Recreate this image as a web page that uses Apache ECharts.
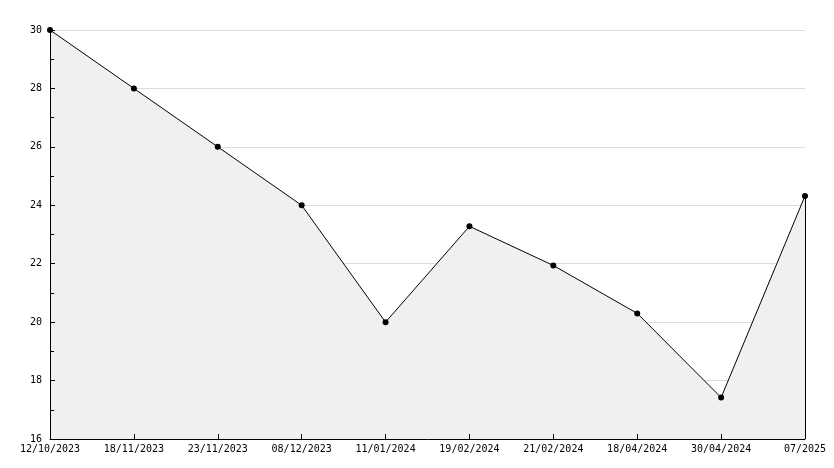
<!DOCTYPE html>
<html>
<head>
<meta charset="utf-8">
<script src="https://cdn.jsdelivr.net/npm/echarts@6/dist/echarts.min.js"></script>
<style>html,body{margin:0;padding:0;background:#fff}#c{width:834px;height:468px}</style>
</head>
<body>
<div id="c"></div>
<script>
const categories = ["12/10/2023","18/11/2023","23/11/2023","08/12/2023","11/01/2024","19/02/2024","21/02/2024","18/04/2024","30/04/2024","07/2025"];
const values = [30, 28, 26, 24, 20, 23.28, 21.94, 20.3, 17.42, 24.32];
const yMin = 16, yMax = 30, yStep = 2;

const chart = echarts.init(document.getElementById('c'));
const font = '"DejaVu Sans Mono", monospace';
const xBase = {type: 'category', data: categories, boundaryGap: false};
const yBase = {type: 'value', min: yMin, max: yMax, interval: yStep};
chart.setOption({
  animation: false,
  grid: {left: 50, right: 29, top: 30, bottom: 29},
  xAxis: [
    Object.assign({}, xBase, {
      z: 0, axisLine: {show: false}, axisTick: {show: false}, axisLabel: {show: false}, splitLine: {show: false}
    }),
    Object.assign({}, xBase, {
      z: 10, position: 'bottom',
      axisLine: {lineStyle: {color: '#000', width: 1}},
      axisTick: {inside: true, length: 5, lineStyle: {color: '#000'}},
      axisLabel: {color: '#000', fontFamily: font, fontSize: 10, margin: 5, interval: 0},
      splitLine: {show: false}
    })
  ],
  yAxis: [
    Object.assign({}, yBase, {
      z: 0, axisLine: {show: false}, axisTick: {show: false}, axisLabel: {show: false},
      splitLine: {show: true, lineStyle: {color: '#dcdcdc', width: 1}}
    }),
    Object.assign({}, yBase, {
      z: 10, position: 'left',
      axisLine: {show: true, lineStyle: {color: '#000', width: 1}},
      axisTick: {show: true, inside: true, length: 5, lineStyle: {color: '#000'}},
      minorTick: {show: true, splitNumber: 2, length: 4, lineStyle: {color: '#000'}},
      axisLabel: {color: '#000', fontFamily: font, fontSize: 10, margin: 8},
      splitLine: {show: false}
    })
  ],
  series: [{
    type: 'line', data: values, xAxisIndex: 0, yAxisIndex: 0,
    symbol: 'circle', symbolSize: 6, z: 5,
    itemStyle: {color: '#000'},
    lineStyle: {color: '#000', width: 1},
    areaStyle: {color: '#f0f0f0', opacity: 1},
    markLine: {
      silent: true, symbol: 'none', label: {show: false},
      lineStyle: {color: '#000', width: 1, type: 'solid'},
      data: [[{coord: [categories.length - 1, values[values.length - 1]]}, {coord: [categories.length - 1, yMin]}]]
    }
  }]
});
</script>
</body>
</html>
